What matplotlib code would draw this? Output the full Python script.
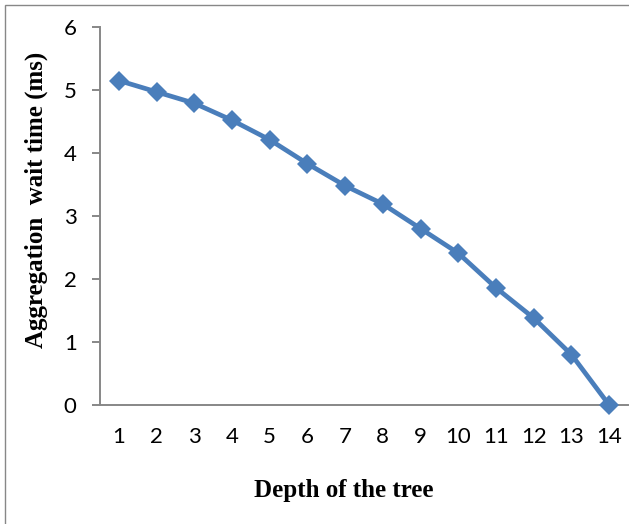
import numpy as np
import matplotlib.pyplot as plt
from matplotlib.patches import Rectangle

# data
depth = list(range(1, 15))
wait_ms = [5.15, 4.97, 4.79, 4.52, 4.21, 3.83, 3.48, 3.19, 2.80, 2.41, 1.86, 1.38, 0.80, 0.0]
y_ticks = [0, 1, 2, 3, 4, 5, 6]

blue = '#4a7ebb'
grey = '#878787'

fig = plt.figure(figsize=(6.29, 5.24), dpi=100)
ax = fig.add_axes([100/629, (524-405)/524, 528/629, 378/524])

ax.plot(depth, wait_ms, '-', color=blue, linewidth=3.4,
        marker='D', markersize=10.5, markeredgewidth=0, clip_on=False, zorder=3)

ax.set_xlim(0.5, 14.5)
ax.set_ylim(0, 6)
ax.set_xticks(depth)
ax.set_yticks(y_ticks)

# spines like the excel chart
for s in ['top', 'right']:
    ax.spines[s].set_visible(False)
for s in ['left', 'bottom']:
    ax.spines[s].set_color(grey)
    ax.spines[s].set_linewidth(1.4)

ax.tick_params(axis='y', length=5.8, width=1.4, color=grey, pad=11,
               labelsize=16, labelfontfamily='Lato')
ax.tick_params(axis='x', length=0, pad=16, labelsize=16, labelfontfamily='Lato')

# axis labels
fig.text(36/629, (524-200)/524, 'Aggregation  wait time (ms)', rotation=90,
         ha='center', va='center', fontsize=18, fontweight='bold',
         family='Liberation Serif')
fig.text(343.5/629, (524-490)/524, 'Depth of the tree', ha='center', va='center',
         fontsize=18, fontweight='bold', family='Liberation Serif')

# outer border of the chart area
fig.patches.append(Rectangle((5/629, -0.1), 1.2, 1.1 - 5/524, transform=fig.transFigure,
                             fill=False, edgecolor=grey, linewidth=1.0))

fig.savefig('out.png', dpi=100)
